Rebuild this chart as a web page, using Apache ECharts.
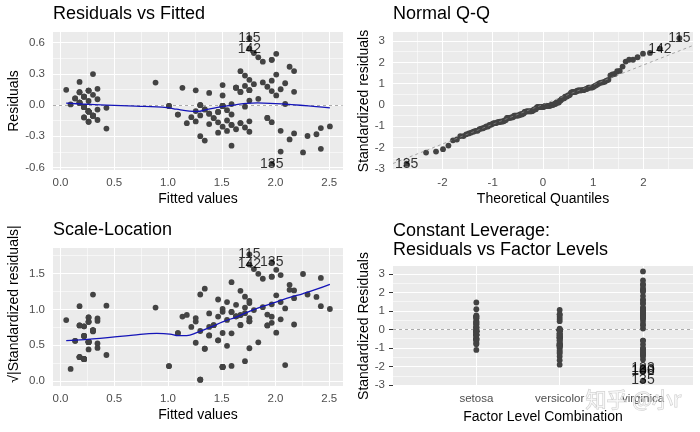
<!DOCTYPE html>
<html><head><meta charset="utf-8">
<script src="https://cdn.jsdelivr.net/npm/echarts/dist/echarts.min.js"></script>
<style>html,body{margin:0;padding:0;background:#fff}#c{width:700px;height:432px}</style>
</head><body><div id="c"></div>
<script>
// ---------------- data ----------------
const categories = ['setosa', 'versicolor', 'virginica'];
const rowsPerSpecies = [50, 50, 50];

const fitted = [
0.219,0.219,0.177,0.261,0.219,0.344,0.219,0.261,0.219,0.261,
0.261,0.302,0.219,0.094,0.136,0.261,0.177,0.219,0.344,0.261,
0.344,0.261,0.053,0.344,0.427,0.302,0.302,0.261,0.219,0.302,
0.302,0.261,0.261,0.219,0.261,0.136,0.177,0.219,0.177,0.261,
0.177,0.177,0.177,0.302,0.427,0.219,0.302,0.219,0.261,0.219,
1.591,1.508,1.674,1.300,1.549,1.508,1.591,1.009,1.549,1.258,
1.092,1.383,1.300,1.591,1.134,1.466,1.508,1.342,1.508,1.258,
1.633,1.300,1.674,1.591,1.425,1.466,1.633,1.716,1.508,1.092,
1.217,1.175,1.258,1.757,1.508,1.508,1.591,1.466,1.342,1.300,
1.466,1.549,1.300,1.009,1.383,1.383,1.383,1.425,0.884,1.342,
2.131,1.757,2.090,1.965,2.048,2.381,1.508,2.256,2.048,2.173,
1.757,1.840,1.924,1.716,1.757,1.840,1.924,2.422,2.506,1.716,
2.007,1.674,2.422,1.674,2.007,2.131,1.633,1.674,1.965,2.048,
2.173,2.298,1.965,1.757,1.965,2.173,1.965,1.924,1.633,1.882,
1.965,1.757,1.757,2.090,2.007,1.799,1.716,1.799,1.882,1.757];

const resid = [
-0.019,-0.019,0.023,-0.061,-0.019,0.056,0.081,-0.061,-0.019,-0.161,
-0.061,-0.102,-0.119,0.006,0.064,0.139,0.223,0.081,-0.044,0.039,
-0.144,0.139,0.147,0.156,-0.227,-0.102,0.098,-0.061,-0.019,-0.102,
-0.102,0.139,-0.161,-0.019,-0.061,0.064,0.023,-0.119,0.023,-0.061,
0.123,0.123,0.023,0.298,-0.027,0.081,-0.102,-0.019,-0.061,-0.019,
-0.191,-0.008,-0.174,0.000,-0.049,-0.208,0.009,-0.009,-0.249,0.142,
-0.092,0.117,-0.300,-0.191,0.166,-0.066,-0.008,-0.342,-0.008,-0.158,
0.167,0.000,-0.174,-0.391,-0.125,-0.066,-0.233,-0.016,-0.008,-0.092,
-0.117,-0.175,-0.058,-0.157,-0.008,0.092,-0.091,-0.166,-0.042,0.000,
-0.266,-0.149,-0.100,-0.009,-0.083,-0.183,-0.083,-0.125,0.216,-0.042,
0.369,0.143,0.010,-0.165,0.152,-0.281,0.192,-0.456,-0.248,0.327,
0.243,0.060,0.176,0.284,0.643,0.460,-0.124,-0.222,-0.206,-0.216,
0.293,0.326,-0.422,0.126,0.093,-0.331,0.167,0.126,0.135,-0.448,
-0.273,-0.298,0.235,-0.257,-0.565,0.127,0.435,-0.124,0.167,0.218,
0.435,0.543,0.143,0.210,0.493,0.501,0.184,0.201,0.418,0.043];

const stdResid = [
-0.093,-0.093,0.111,-0.296,-0.093,0.275,0.396,-0.296,-0.093,-0.785,
-0.296,-0.499,-0.582,0.028,0.314,0.681,1.089,0.396,-0.213,0.193,
-0.702,0.681,0.722,0.763,-1.106,-0.499,0.478,-0.296,-0.093,-0.499,
-0.499,0.681,-0.785,-0.093,-0.296,0.314,0.111,-0.582,0.111,-0.296,
0.600,0.600,0.111,1.455,-0.131,0.396,-0.499,-0.093,-0.296,-0.093,
-0.929,-0.038,-0.847,0.0003,-0.240,-1.010,0.044,-0.043,-1.213,0.688,
-0.447,0.568,-1.458,-0.929,0.808,-0.322,-0.038,-1.660,-0.038,-0.770,
0.815,0.0003,-0.847,-1.902,-0.606,-0.322,-1.131,-0.076,-0.038,-0.447,
-0.568,-0.851,-0.284,-0.766,-0.038,0.448,-0.443,-0.808,-0.202,0.0003,
-1.294,-0.727,-0.486,-0.043,-0.404,-0.890,-0.404,-0.606,1.049,-0.202,
1.801,0.695,0.049,-0.805,0.740,-1.377,0.934,-2.232,-1.212,1.598,
1.182,0.290,0.860,1.384,3.129,2.239,-0.602,-1.091,-1.010,-1.050,
1.431,1.586,-2.072,0.613,0.455,-1.619,0.815,0.613,0.658,-2.188,
-1.335,-1.458,1.145,-1.253,-2.756,0.621,2.121,-0.602,0.815,1.062,
2.121,2.642,0.695,1.026,2.407,2.441,0.897,0.980,2.037,0.208];

const theoQuantiles = [
-2.713,-2.326,-2.128,-1.989,-1.881,-1.791,-1.713,-1.645,-1.583,-1.527,
-1.476,-1.428,-1.383,-1.341,-1.301,-1.263,-1.227,-1.192,-1.159,-1.126,
-1.095,-1.065,-1.036,-1.008,-0.981,-0.954,-0.928,-0.903,-0.878,-0.854,
-0.830,-0.806,-0.784,-0.761,-0.739,-0.717,-0.696,-0.674,-0.654,-0.633,
-0.613,-0.593,-0.573,-0.553,-0.534,-0.515,-0.496,-0.477,-0.458,-0.440,
-0.422,-0.403,-0.385,-0.367,-0.350,-0.332,-0.314,-0.297,-0.279,-0.262,
-0.245,-0.228,-0.210,-0.193,-0.176,-0.159,-0.143,-0.126,-0.109,-0.092,
-0.075,-0.059,-0.042,-0.025,-0.008,
0.008,0.025,0.042,0.059,0.075,0.092,0.109,0.126,0.143,0.159,
0.176,0.193,0.210,0.228,0.245,0.262,0.279,0.297,0.314,0.332,
0.350,0.367,0.385,0.403,0.422,0.440,0.458,0.477,0.496,0.515,
0.534,0.553,0.573,0.593,0.613,0.633,0.654,0.674,0.696,0.717,
0.739,0.761,0.784,0.806,0.830,0.854,0.878,0.903,0.928,0.954,
0.981,1.008,1.036,1.065,1.095,1.126,1.159,1.192,1.227,1.263,
1.301,1.341,1.383,1.428,1.476,1.527,1.583,1.645,1.713,1.791,
1.881,1.989,2.128,2.326,2.713];

const loessResX = [0.053,0.2,0.43,0.7,0.99,1.08,1.2,1.27,1.36,1.45,1.55,1.64,1.73,1.83,1.95,2.07,2.23,2.38,2.506];
const loessResY = [0.018,0.010,0.000,-0.010,-0.025,-0.040,-0.058,-0.062,-0.045,-0.025,-0.008,0.005,0.016,0.020,0.017,0.010,-0.002,-0.015,-0.028];
const loessScaleX = [0.053,0.367,0.677,0.895,1.018,1.096,1.174,1.267,1.39,1.514,1.639,1.763,1.886,2.011,2.135,2.258,2.383,2.506];
const loessScaleY = [0.562,0.595,0.641,0.664,0.655,0.632,0.632,0.674,0.748,0.827,0.896,0.975,1.045,1.105,1.166,1.221,1.282,1.35];
const qqLineX = [-2.984, 2.984];
const qqLineY = [-2.744, 2.790];

const labelRows = [115, 142, 135];
const labelRowsFactor = [123, 130, 108, 135];

const fittedTicks = [0, 0.5, 1, 1.5, 2, 2.5];
const fittedMinor = [0.25, 0.75, 1.25, 1.75, 2.25];
const residTicks = [-0.6, -0.3, 0, 0.3, 0.6];
const residMinor = [-0.45, -0.15, 0.15, 0.45];
const qTicks = [-2, -1, 0, 1, 2];
const qMinor = [-2.5, -1.5, -0.5, 0.5, 1.5, 2.5];
const stdTicks = [-3, -2, -1, 0, 1, 2, 3];
const stdMinor = [-2.5, -1.5, -0.5, 0.5, 1.5, 2.5];
const sqrtTicks = [0, 0.5, 1, 1.5];
const sqrtMinor = [0.25, 0.75, 1.25, 1.75];
const factorTicks = [1, 2, 3];

// ---------------- derived tables ----------------
const FONT = '"Liberation Sans", Arial, Helvetica, sans-serif';
const sqrtAbsStd = stdResid.map(v => Math.sqrt(Math.abs(v)));
const speciesPos = [];
rowsPerSpecies.forEach((n, si) => { for (let j = 0; j < n; j++) speciesPos.push(si + 1); });
const order = stdResid.map((v, i) => i).sort((a, b) => stdResid[a] - stdResid[b]);
const qqPts = order.map((ri, k) => [theoQuantiles[k], stdResid[ri]]);
const zip = (a, b) => a.map((v, i) => [v, b[i]]);

const grids = [
  {left: 53, top: 32, width: 290, height: 138},
  {left: 393, top: 32, width: 300, height: 138},
  {left: 53, top: 248, width: 290, height: 138},
  {left: 393, top: 266, width: 300, height: 120}
].map(g => Object.assign(g, {show: true, backgroundColor: '#EBEBEB', borderWidth: 0}));

function axis(gi, min, max, ticks, fmt, name, gap, isY, extraName) {
  return Object.assign({
    type: 'value', gridIndex: gi, min: min, max: max, name: name,
    nameLocation: 'middle', nameGap: gap, nameRotate: isY ? 90 : 0,
    nameTextStyle: {fontSize: 14, color: '#000', fontFamily: FONT},
    axisLine: {show: false}, splitLine: {show: false}, minorSplitLine: {show: false},
    axisTick: {show: true, length: 4, lineStyle: {color: '#333', width: 1}, customValues: ticks},
    axisLabel: {customValues: ticks, formatter: fmt, fontSize: 11.5, color: '#4D4D4D',
      margin: isY ? 8 : 7, fontFamily: FONT}
  }, extraName || {});
}
const f1 = v => Number(v).toFixed(1);
const f0 = v => String(Math.round(v));

function gridSeries(gi, xMaj, xMin, yMaj, yMin, extra) {
  const maj = {color: '#FFFFFF', width: 1.1, type: 'solid'};
  const mnr = {color: '#FFFFFF', width: 0.55, type: 'solid'};
  const d = [];
  xMin.forEach(v => d.push({xAxis: v, lineStyle: mnr}));
  yMin.forEach(v => d.push({yAxis: v, lineStyle: mnr}));
  xMaj.forEach(v => d.push({xAxis: v, lineStyle: maj}));
  yMaj.forEach(v => d.push({yAxis: v, lineStyle: maj}));
  (extra || []).forEach(e => d.push(e));
  return {type: 'line', xAxisIndex: gi, yAxisIndex: gi, data: [], silent: true, z: 1,
    markLine: {silent: true, symbol: ['none', 'none'], animation: false,
      label: {show: false}, emphasis: {disabled: true}, data: d}};
}
const zeroDash = {yAxis: 0, lineStyle: {color: '#888888', width: 0.7, type: [3, 3]}};

function points(gi, data) {
  return {type: 'scatter', xAxisIndex: gi, yAxisIndex: gi, data: data, symbol: 'circle',
    symbolSize: 5.8, itemStyle: {color: '#434343', opacity: 1}, z: 10, silent: true, emphasis: {disabled: true}};
}
function smooth(gi, xs, ys) {
  return {type: 'line', xAxisIndex: gi, yAxisIndex: gi, data: zip(xs, ys), smooth: 0.4,
    showSymbol: false, symbol: 'none', lineStyle: {color: '#1414B8', width: 1.3}, z: 11, silent: true};
}
function labels(gi, data) {
  return {type: 'scatter', xAxisIndex: gi, yAxisIndex: gi, symbolSize: 0, z: 13, silent: true,
    label: {show: true, position: 'inside', formatter: p => p.name, fontSize: 14, color: '#000', fontFamily: FONT},
    data: data};
}

const lab1 = labelRows.map(r => ({name: String(r), value: [fitted[r - 1], resid[r - 1]]}));
const lab2 = labelRows.map(r => ({name: String(r), value: qqPts[order.indexOf(r - 1)]}));
const lab3 = labelRows.map(r => ({name: String(r), value: [fitted[r - 1], sqrtAbsStd[r - 1]]}));
const lab4 = labelRowsFactor.map(r => ({name: String(r), value: [speciesPos[r - 1], stdResid[r - 1]]}));

const titleStyle = {fontSize: 18, fontWeight: 'normal', color: '#000', fontFamily: FONT, lineHeight: 18.4};

const option = {
  animation: false,
  backgroundColor: '#FFFFFF',
  title: [
    {text: 'Residuals vs Fitted', left: 53, top: 5, padding: 0, textStyle: titleStyle},
    {text: 'Normal Q-Q', left: 393, top: 5, padding: 0, textStyle: titleStyle},
    {text: 'Scale-Location', left: 53, top: 221, padding: 0, textStyle: titleStyle},
    {text: 'Constant Leverage:\nResiduals vs Factor Levels', left: 393, top: 222, padding: 0, textStyle: titleStyle}
  ],
  grid: grids,
  xAxis: [
    axis(0, -0.070, 2.628, fittedTicks, f1, 'Fitted values', 22, false),
    axis(1, -2.984, 2.984, qTicks, f0, 'Theoretical Quantiles', 22, false),
    axis(2, -0.070, 2.628, fittedTicks, f1, 'Fitted values', 22, false),
    axis(3, 0, 3.6, factorTicks, v => categories[Math.round(v) - 1], 'Factor Level Combination', 24, false)
  ],
  yAxis: [
    axis(0, -0.6255, 0.7034, residTicks, f1, 'Residuals', 32, true),
    axis(1, -3.050, 3.423, stdTicks, f0, 'Standardized residuals', 19, true),
    axis(2, -0.071, 1.857, sqrtTicks, f1, '\u221A|Standardized residuals|', 32, true,
      {nameTextStyle: {fontSize: 14, color: '#000', fontFamily: FONT, padding: [0, 0, 0, 26]}}),
    axis(3, -3.050, 3.423, stdTicks, f0, 'Standardized Residuals', 19, true)
  ],
  series: [
    gridSeries(0, fittedTicks, fittedMinor, residTicks, residMinor, [zeroDash]),
    points(0, zip(fitted, resid)),
    smooth(0, loessResX, loessResY),
    labels(0, lab1),

    gridSeries(1, qTicks, qMinor, stdTicks, stdMinor, []),
    points(1, qqPts),
    {type: 'line', xAxisIndex: 1, yAxisIndex: 1, data: zip(qqLineX, qqLineY), showSymbol: false, symbol: 'none',
      lineStyle: {color: '#888888', width: 0.7, type: [3, 3]}, z: 12, silent: true},
    labels(1, lab2),

    gridSeries(2, fittedTicks, fittedMinor, sqrtTicks, sqrtMinor, []),
    points(2, zip(fitted, sqrtAbsStd)),
    smooth(2, loessScaleX, loessScaleY),
    labels(2, lab3),

    gridSeries(3, factorTicks, [], stdTicks, stdMinor, [zeroDash]),
    points(3, zip(speciesPos, stdResid)),
    labels(3, lab4)
  ],
  graphic: [{
    type: 'text', left: 585, top: 388, silent: true, z: 100,
    style: {text: '知乎 @小r', font: '21px "Noto Sans CJK SC"', fill: 'rgba(255,255,255,0.6)',
      stroke: 'rgba(110,110,110,0.35)', lineWidth: 1}
  }]
};

const chart = echarts.init(document.getElementById('c'), null, {renderer: 'canvas'});
chart.setOption(option);
</script>
</body></html>
